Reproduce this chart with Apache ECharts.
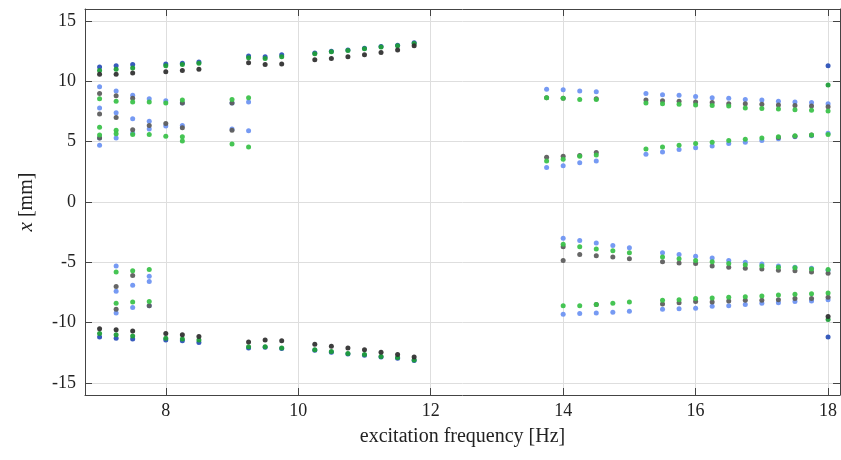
<!DOCTYPE html>
<html>
<head>
<meta charset="utf-8">
<script src="https://cdn.jsdelivr.net/npm/echarts@6/dist/echarts.min.js"></script>
<style>
  html, body { margin: 0; padding: 0; background: #fff; }
  #chart { width: 841px; height: 460px; }
</style>
</head>
<body>
<div id="chart"></div>
<script>
// tick positions
const xTicks = [8, 10, 12, 14, 16, 18]
const yTicks = [-15, -10, -5, 0, 5, 10, 15]

// outer branch (darker markers): [frequency Hz, x mm]
const outerBlue = [
  [7, 11.2], [7.25, 11.3], [7.5, 11.4], [8, 11.45], [8.25, 11.5], [8.5, 11.6],
  [9.25, 12.1], [9.5, 12.05], [9.75, 12.2], [10.25, 12.35], [10.5, 12.5], [10.75, 12.6],
  [11, 12.75], [11.25, 12.9], [11.5, 13.0], [11.75, 13.2],
  [7, -11.2], [7.25, -11.3], [7.5, -11.35], [8, -11.45], [8.25, -11.5], [8.5, -11.65],
  [9.25, -12.1], [9.5, -12.05], [9.75, -12.15], [10.25, -12.3], [10.5, -12.45], [10.75, -12.6],
  [11, -12.7], [11.25, -12.85], [11.5, -12.95], [11.75, -13.15],
  [18, 11.3], [18, -11.2],
]
const outerGreen = [
  [7, 10.9], [7.25, 11.0], [7.5, 11.1], [8, 11.3], [8.25, 11.4], [8.5, 11.5],
  [9.25, 11.95], [9.5, 11.9], [9.75, 12.05], [10.25, 12.3], [10.5, 12.45], [10.75, 12.55],
  [11, 12.7], [11.25, 12.85], [11.5, 12.95], [11.75, 13.15],
  [7, -10.9], [7.25, -11.0], [7.5, -11.1], [8, -11.3], [8.25, -11.35], [8.5, -11.45],
  [9.25, -12.0], [9.5, -12.0], [9.75, -12.1], [10.25, -12.25], [10.5, -12.4], [10.75, -12.55],
  [11, -12.65], [11.25, -12.8], [11.5, -12.9], [11.75, -13.1],
  [18, 9.7], [18, -9.75],
]
const outerGrey = [
  [7, 10.6], [7.25, 10.6], [7.5, 10.7], [8, 10.8], [8.25, 10.9], [8.5, 11.0],
  [9.25, 11.55], [9.5, 11.4], [9.75, 11.45], [10.25, 11.8], [10.5, 11.9], [10.75, 12.05],
  [11, 12.2], [11.25, 12.4], [11.5, 12.6], [11.75, 12.95],
  [7, -10.5], [7.25, -10.6], [7.5, -10.7], [8, -10.9], [8.25, -11.0], [8.5, -11.15],
  [9.25, -11.6], [9.5, -11.45], [9.75, -11.5], [10.25, -11.8], [10.5, -11.95], [10.75, -12.1],
  [11, -12.25], [11.25, -12.45], [11.5, -12.65], [11.75, -12.85],
  [18, -9.5],
]

// inner solutions (lighter markers)
const innerBlue = [
  [7, 9.55], [7, 7.8], [7, 5.3], [7, 4.7],
  [7.25, 9.2], [7.25, 7.4], [7.25, 5.3], [7.25, -5.3], [7.25, -7.4], [7.25, -9.2],
  [7.5, 8.85], [7.5, 6.9], [7.5, 5.7], [7.5, -6.9], [7.5, -8.75],
  [7.75, 8.55], [7.75, 6.7], [7.75, 6.05], [7.75, -6.15], [7.75, -6.6], [7.75, -8.6],
  [8, 8.4], [8, 6.3], [8.25, 8.2], [8.25, 6.35], [9, 8.2], [9, 6.05], [9.25, 8.3], [9.25, 5.9],
  [13.75, 9.35], [13.75, 2.85],
  [14, 9.3], [14, 3.0], [14, -3.0], [14, -9.3],
  [14.25, 9.2], [14.25, 3.25], [14.25, -3.2], [14.25, -9.25],
  [14.5, 9.15], [14.5, 3.4], [14.5, -3.4], [14.5, -9.2],
  [14.75, -3.6], [14.75, -9.15], [15, -3.8], [15, -9.05],
  [15.25, 9.0], [15.25, 3.95],
  [15.5, 8.9], [15.5, 4.15], [15.5, -4.2], [15.5, -8.9],
  [15.75, 8.85], [15.75, 4.35], [15.75, -4.35], [15.75, -8.85],
  [16, 8.75], [16, 4.5], [16, -4.5], [16, -8.8],
  [16.25, 8.65], [16.25, 4.65], [16.25, -4.65], [16.25, -8.65],
  [16.5, 8.6], [16.5, 4.85], [16.5, -4.85], [16.5, -8.6],
  [16.75, 8.5], [16.75, 4.95], [16.75, -5.0], [16.75, -8.5],
  [17, 8.45], [17, 5.1], [17, -5.15], [17, -8.4],
  [17.25, 8.35], [17.25, 5.25], [17.25, -5.3], [17.25, -8.35],
  [17.5, 8.3], [17.5, 5.4], [17.5, -5.4], [17.5, -8.25],
  [17.75, 8.25], [17.75, 5.5], [17.75, -5.5], [17.75, -8.2],
  [18, 8.15], [18, 5.7], [18, -5.65], [18, -8.1],
]
const innerGreen = [
  [7, 8.55], [7, 6.2], [7, 5.55],
  [7.25, 8.35], [7.25, 5.95], [7.25, 5.65], [7.25, -5.8], [7.25, -8.4],
  [7.5, 8.3], [7.5, 5.6], [7.5, -5.7], [7.5, -8.3],
  [7.75, 8.3], [7.75, 5.6], [7.75, -5.6], [7.75, -8.25],
  [8, 8.2], [8, 5.45], [8.25, 8.45], [8.25, 5.4], [8.25, 5.05],
  [9, 8.5], [9, 4.8], [9.25, 8.65], [9.25, 4.55],
  [13.75, 8.65], [13.75, 3.4],
  [14, 8.6], [14, 3.55], [14, -3.5], [14, -8.6],
  [14.25, 8.5], [14.25, 3.8], [14.25, -3.7], [14.25, -8.6],
  [14.5, 8.5], [14.5, 3.9], [14.5, -3.9], [14.5, -8.5],
  [14.75, -4.05], [14.75, -8.4], [15, -4.2], [15, -8.3],
  [15.25, 8.2], [15.25, 4.4],
  [15.5, 8.15], [15.5, 4.55], [15.5, -4.55], [15.5, -8.15],
  [15.75, 8.1], [15.75, 4.7], [15.75, -4.7], [15.75, -8.1],
  [16, 8.05], [16, 4.85], [16, -4.85], [16, -8.0],
  [16.25, 8.0], [16.25, 4.95], [16.25, -4.95], [16.25, -7.95],
  [16.5, 7.95], [16.5, 5.1], [16.5, -5.1], [16.5, -7.9],
  [16.75, 7.8], [16.75, 5.2], [16.75, -5.2], [16.75, -7.85],
  [17, 7.75], [17, 5.3], [17, -5.3], [17, -7.8],
  [17.25, 7.7], [17.25, 5.4], [17.25, -5.4], [17.25, -7.7],
  [17.5, 7.65], [17.5, 5.5], [17.5, -5.45], [17.5, -7.65],
  [17.75, 7.6], [17.75, 5.55], [17.75, -5.55], [17.75, -7.6],
  [18, 7.55], [18, 5.6], [18, -5.6], [18, -7.55],
]
const innerGrey = [
  [7, 9.0], [7, 7.3], [7, 5.3],
  [7.25, 8.8], [7.25, 7.0], [7.25, -7.0], [7.25, -8.9],
  [7.5, 8.6], [7.5, 6.0], [7.5, -6.1],
  [7.75, 6.35], [7.75, -8.6], [8, 6.5], [8.25, 8.2], [8.25, 6.15], [9, 8.2], [9, 5.95],
  [13.75, 8.65], [13.75, 3.7],
  [14, 8.6], [14, 3.8], [14, -3.7], [14, -4.85],
  [14.25, 3.85], [14.25, -4.35],
  [14.5, 8.55], [14.5, 4.1], [14.5, -4.45], [14.5, -8.5],
  [14.75, -4.55], [15, -4.7],
  [15.25, 8.45],
  [15.5, 8.4], [15.5, -4.95], [15.5, -8.45],
  [15.75, 8.35], [15.75, -5.05], [15.75, -8.35],
  [16, 8.3], [16, -5.1], [16, -8.25],
  [16.25, 8.25], [16.25, -5.3], [16.25, -8.3],
  [16.5, 8.15], [16.5, -5.4], [16.5, -8.2],
  [16.75, 8.15], [16.75, -5.5], [16.75, -8.15],
  [17, 8.1], [17, -5.55], [17, -8.15],
  [17.25, 8.05], [17.25, 5.35], [17.25, -5.65], [17.25, -8.1],
  [17.5, 8.0], [17.5, 5.45], [17.5, -5.7], [17.5, -8.0],
  [17.75, 7.95], [17.75, 5.55], [17.75, -5.8], [17.75, -8.0],
  [18, 7.9], [18, -5.9], [18, -7.9],
]

const FONT = 'Liberation Serif'
const FRAME = '#444'
const GRIDLINE = '#dedede'

const chart = echarts.init(document.getElementById('chart'), null, { renderer: 'canvas' })

function frameAxis(extra) {
  return Object.assign({
    type: 'value',
    axisLine: { show: true, onZero: false, lineStyle: { color: FRAME, width: 1 } },
    axisTick: { show: true, inside: true, length: 7, lineStyle: { color: FRAME } },
    axisLabel: { show: false },
    splitLine: { show: false },
  }, extra)
}

function dots(name, data, color) {
  return {
    name, type: 'scatter', data, symbolSize: 5,
    itemStyle: { color, opacity: 0.95 },
    emphasis: { disabled: true },
  }
}

chart.setOption({
  animation: false,
  textStyle: { fontFamily: FONT },
  grid: { left: 85, right: 1, top: 9, bottom: 65, containLabel: false },
  xAxis: [
    frameAxis({
      min: 6.78, max: 18.18, position: 'bottom',
      axisTick: { show: true, inside: true, length: 7, lineStyle: { color: FRAME }, customValues: xTicks },
      axisLabel: { show: true, customValues: xTicks, color: '#222', fontSize: 18, fontFamily: FONT, margin: 7 },
      splitLine: { show: true, lineStyle: { color: GRIDLINE, width: 1 } },
      name: 'excitation frequency [Hz]', nameLocation: 'middle', nameGap: 32,
      nameTextStyle: { color: '#222', fontSize: 20, fontFamily: FONT },
    }),
    frameAxis({
      min: 6.78, max: 18.18, position: 'top',
      axisTick: { show: true, inside: true, length: 7, lineStyle: { color: FRAME }, customValues: xTicks },
    }),
  ],
  yAxis: [
    frameAxis({
      min: -16, max: 16, position: 'left',
      axisTick: { show: true, inside: true, length: 7, lineStyle: { color: FRAME }, customValues: yTicks },
      axisLabel: { show: true, customValues: yTicks, color: '#222', fontSize: 18, fontFamily: FONT, margin: 9 },
      splitLine: { show: true, lineStyle: { color: GRIDLINE, width: 1 } },
      name: '{i|x} [mm]', nameLocation: 'middle', nameGap: 48, nameRotate: 90,
      nameTextStyle: {
        color: '#222', fontSize: 20, fontFamily: FONT,
        rich: { i: { fontStyle: 'italic', fontSize: 21, fontFamily: FONT, color: '#222' } },
      },
    }),
    frameAxis({
      min: -16, max: 16, position: 'right',
      axisTick: { show: true, inside: true, length: 7, lineStyle: { color: FRAME }, customValues: yTicks },
    }),
  ],
  series: [
    dots('inner blue', innerBlue, '#6f95f2'),
    dots('inner grey', innerGrey, '#5e5e5e'),
    dots('inner green', innerGreen, '#3cc24b'),
    dots('outer blue', outerBlue, '#2d52b8'),
    dots('outer green', outerGreen, '#1f9e3a'),
    dots('outer grey', outerGrey, '#333333'),
  ],
})
</script>
</body>
</html>
